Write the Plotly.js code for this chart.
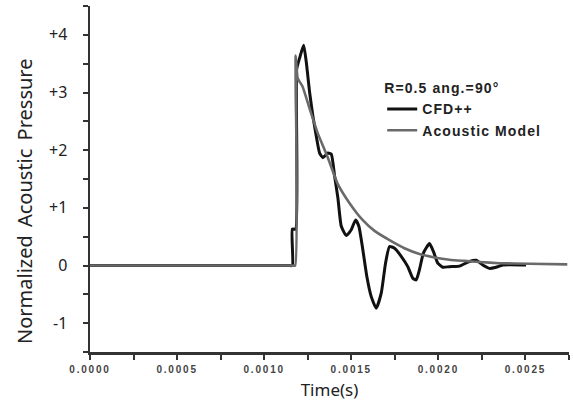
<!DOCTYPE html>
<html>
<head>
<meta charset="utf-8">
<script src="https://cdn.plot.ly/plotly-3.0.1.min.js"></script>
<style>
html,body{margin:0;padding:0;background:#fff;}
#chart{width:573px;height:408px;}
.xtick text{letter-spacing:1.8px;}
.legendtext{letter-spacing:1.1px;}
.legendtitletext{letter-spacing:1.1px;}
.annotation-text{word-spacing:3px;}
</style>
</head>
<body>
<div id="chart"></div>
<script>
// CFD++ series (time in s, normalized acoustic pressure)
const cfdTime = [0, 0.0006, 0.00114, 0.0011617, 0.0011617, 0.0011806, 0.0011863, 0.0012036, 0.0012265, 0.001242, 0.0012609,
  0.0012798, 0.0012993, 0.0013182, 0.0013372, 0.0013658, 0.0013853, 0.0014042, 0.0014232, 0.0014427,
  0.0014713, 0.0015, 0.0015247, 0.0015436, 0.0015665, 0.0015894, 0.0016147, 0.0016433, 0.001672,
  0.0016967, 0.0017196, 0.0017483, 0.0017867, 0.0018245, 0.0018532, 0.0018727, 0.0018916, 0.0019146,
  0.001949, 0.0019719, 0.0019966, 0.0020252, 0.0020637, 0.002121, 0.0021783, 0.0022167, 0.0022546,
  0.002293, 0.0023314, 0.0023693, 0.0025034];
const cfdPressure = [0, 0, 0, 0, 0.63, 0.63, 3.4, 3.6, 3.82, 3.52, 3.0,
  2.59, 2.24, 1.95, 1.87, 1.95, 1.93, 1.55, 1.17, 0.68,
  0.52, 0.62, 0.79, 0.68, 0.27, -0.19, -0.54, -0.74, -0.48,
  0.04, 0.33, 0.30, 0.16, -0.02, -0.22, -0.25, -0.07, 0.22,
  0.38, 0.24, 0.04, -0.03, -0.02, -0.01, 0.07, 0.09, 0.01,
  -0.05, -0.03, 0.01, 0.01];

// Acoustic model series
const modelTime = [0, 0.0006, 0.00115, 0.0011778, 0.0011806, 0.0011921, 0.0012208, 0.0012609, 0.0013068, 0.0013641,
  0.0014214, 0.0014903, 0.0015648, 0.0016336, 0.0017196, 0.0018056, 0.0018916, 0.001978, 0.0020637,
  0.0021497, 0.0022357, 0.0023503, 0.0025224, 0.0027403];
const modelPressure = [0, 0, 0, 0, 3.64, 3.25, 3.1, 2.72, 2.3, 1.88,
  1.42, 1.08, 0.79, 0.6, 0.44, 0.3, 0.2, 0.14, 0.1,
  0.08, 0.06, 0.04, 0.03, 0.02];

const seriesNames = ['CFD++', 'Acoustic Model'];
const legendTitle = 'R=0.5 ang.=90°';
const xTitle = 'Time(s)';
const yTitle = 'Normalized Acoustic Pressure';
const yTickVals = [-1, 0, 1, 2, 3, 4];
const yTickText = ['-1', '0', '+1', '+2', '+3', '+4'];

const traces = [
  {x: cfdTime, y: cfdPressure, name: seriesNames[0], type: 'scatter', mode: 'lines',
   line: {color: '#111111', width: 3, shape: 'spline', smoothing: 0.5}},
  {x: modelTime, y: modelPressure, name: seriesNames[1], type: 'scatter', mode: 'lines',
   line: {color: '#6a6a6a', width: 2.6, shape: 'spline', smoothing: 0.4}}
];

const layout = {
  width: 573, height: 408,
  margin: {l: 90, r: 4, t: 6, b: 56},
  paper_bgcolor: '#ffffff', plot_bgcolor: '#ffffff',
  showlegend: true,
  legend: {
    x: 0.61, y: 0.80, xanchor: 'left', yanchor: 'top',
    bgcolor: 'rgba(0,0,0,0)', borderwidth: 0,
    itemwidth: 30, tracegroupgap: 0,
    font: {family: 'Arial, Liberation Sans', size: 14, color: '#222', weight: 'bold'},
    title: {text: legendTitle, side: 'top',
            font: {family: 'Arial, Liberation Sans', size: 14, color: '#222', weight: 'bold'}}
  },
  annotations: [
    {text: yTitle, xref: 'paper', yref: 'paper', x: -0.1378, y: 0.4364,
     xanchor: 'center', yanchor: 'middle', textangle: -90, showarrow: false,
     font: {family: 'Noto Sans, Open Sans', size: 20, color: '#222'}}
  ],
  xaxis: {
    range: [0, 0.00275],
    tickmode: 'linear', tick0: 0, dtick: 0.0005,
    tickformat: '.4f',
    ticks: 'outside', ticklen: 5, tickwidth: 2, tickcolor: '#333',
    minor: {dtick: 0.00025, ticks: 'outside', ticklen: 5, tickwidth: 2, tickcolor: '#333'},
    showline: true, linecolor: '#333', linewidth: 2.5,
    showgrid: false, zeroline: false,
    ticklabelstandoff: 1,
    tickfont: {family: 'Arial, Liberation Sans', size: 10, color: '#444', weight: 'bold'},
    title: {text: xTitle, standoff: 11,
            font: {family: 'Noto Sans, Open Sans', size: 17, color: '#222'}}
  },
  yaxis: {
    range: [-1.5, 4.5],
    tickmode: 'array', tickvals: yTickVals, ticktext: yTickText,
    ticks: 'outside', ticklen: 5, tickwidth: 2, tickcolor: '#333',
    minor: {dtick: 0.5, tick0: 0, ticks: 'outside', ticklen: 5, tickwidth: 2, tickcolor: '#333'},
    showline: true, linecolor: '#333', linewidth: 2.5,
    showgrid: false, zeroline: false,
    ticklabelstandoff: 12,
    tickfont: {family: 'Noto Sans, Open Sans', size: 16, color: '#222'}
  }
};

Plotly.newPlot('chart', traces, layout, {displayModeBar: false, staticPlot: true});
</script>
</body>
</html>
